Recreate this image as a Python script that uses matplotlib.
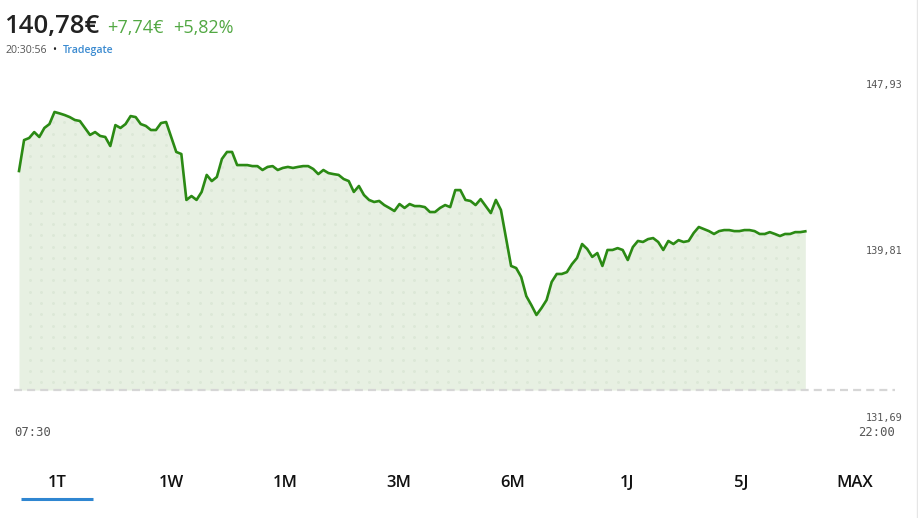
import numpy as np
import matplotlib
matplotlib.use('Agg')
import matplotlib.pyplot as plt
from matplotlib import transforms
from matplotlib.lines import Line2D

W, H = 918, 518

# intraday quotes (Tradegate), 07:30 .. 20:30:56
START_MIN = 7 * 60 + 30
LAST_MIN = 20 * 60 + 30 + 56 / 60
END_MIN = 22 * 60
PRICES = [
    143.72, 145.23, 145.33, 145.62, 145.38, 145.82, 146.01, 146.60, 146.53, 146.45,
    146.35, 146.21, 146.16, 145.82, 145.48, 145.62, 145.43, 145.38, 144.94, 145.96,
    145.82, 146.01, 146.40, 146.35, 146.01, 145.92, 145.72, 145.72, 146.06, 146.11,
    145.38, 144.65, 144.55, 142.31, 142.50, 142.31, 142.70, 143.53, 143.23, 143.43,
    144.31, 144.65, 144.65, 144.01, 144.01, 144.01, 143.96, 143.96, 143.77, 143.92,
    143.96, 143.77, 143.87, 143.92, 143.87, 143.92, 143.96, 143.96, 143.82, 143.57,
    143.77, 143.62, 143.57, 143.53, 143.33, 143.23, 142.70, 142.99, 142.55, 142.31,
    142.21, 142.26, 142.06, 141.92, 141.77, 142.11, 141.92, 142.11, 142.01, 142.01,
    141.96, 141.72, 141.72, 141.92, 142.06, 141.96, 142.79, 142.79, 142.31, 142.26,
    142.06, 142.35, 142.01, 141.67, 142.31, 141.82, 140.45, 139.09, 138.99, 138.55,
    137.62, 137.18, 136.70, 137.04, 137.43, 138.31, 138.70, 138.70, 138.79, 139.18,
    139.48, 140.16, 139.92, 139.53, 139.72, 139.09, 139.87, 139.87, 139.96, 139.87,
    139.38, 140.01, 140.31, 140.26, 140.40, 140.45, 140.26, 139.87, 140.31, 140.16,
    140.35, 140.26, 140.31, 140.70, 140.99, 140.89, 140.79, 140.65, 140.79, 140.84,
    140.84, 140.79, 140.79, 140.84, 140.84, 140.79, 140.65, 140.65, 140.74, 140.65,
    140.55, 140.65, 140.65, 140.74, 140.74, 140.78,
]
PREV_CLOSE = 133.04

Y_TICKS = [131.69, 139.81, 147.93]
Y_TICK_LABELS = ['131,69', '139,81', '147,93']
X_LABELS = ['07:30', '22:00']
TABS = ['1T', '1W', '1M', '3M', '6M', '1J', '5J', 'MAX']

LAST_PRICE = '140,78€'
CHANGE_ABS = '+7,74€'
CHANGE_PCT = '+5,82%'
TIMESTAMP = '20:30:56'
VENUE = 'Tradegate'

LINE_COLOR = '#2b8a14'
FILL_COLOR = '#e7f0e2'
DOT_COLOR = '#dce8d7'
UP_COLOR = '#52a843'
LABEL_COLOR = '#555555'
MONO = 'DejaVu Sans Mono'
SANS = ['Open Sans', 'DejaVu Sans']


def px(x, y):
    """pixel position (from top left) -> figure fraction"""
    return x / W, 1 - y / H


times = np.linspace(START_MIN, LAST_MIN, len(PRICES))

fig = plt.figure(figsize=(W / 100, H / 100), dpi=100)
fig.patch.set_facecolor('white')

# plot area: x 14..895 px, y 84.7..417.7 px
ax_left, ax_right, ax_top, ax_bottom = 14, 895, 84.7, 417.7
ax = fig.add_axes([ax_left / W, 1 - ax_bottom / H,
                   (ax_right - ax_left) / W, (ax_bottom - ax_top) / H])
ax.set_xlim(START_MIN - 5 * 870 / 876, END_MIN)
ax.set_ylim(Y_TICKS[0], Y_TICKS[-1])
ax.axis('off')

fill = ax.fill_between(times, PRICES, PREV_CLOSE, color=FILL_COLOR, lw=0, zorder=1)

# dotted texture inside the area
step_x = 11.3 / (ax_right - ax_left)
step_y = 11.3 / (ax_bottom - ax_top)
gx, gy = np.meshgrid(np.arange(16 / 881, 1, step_x), np.arange(0.005, 1, step_y))
dots = ax.scatter(gx.ravel(), gy.ravel(), s=4.5, color=DOT_COLOR, lw=0,
                  transform=ax.transAxes, zorder=2)
dots.set_clip_path(fill.get_paths()[0], ax.transData)

ax.axhline(PREV_CLOSE, color='#d6d6d6', lw=1.6, dashes=(3.6, 2.3), zorder=3)
ax.plot(times, PRICES, color=LINE_COLOR, lw=1.9, solid_joinstyle='round', zorder=4)

# y labels on the right
trans = transforms.blended_transform_factory(fig.transFigure, ax.transData)
for val, lab in zip(Y_TICKS, Y_TICK_LABELS):
    ax.text(903 / W, val, lab, transform=trans, ha='right', va='center',
            fontsize=7.4, family=MONO, color=LABEL_COLOR)

# x labels
fig.text(*px(14, 433), X_LABELS[0], ha='left', va='center', fontsize=8.8,
         family=MONO, color=LABEL_COLOR)
fig.text(*px(895, 433), X_LABELS[1], ha='right', va='center', fontsize=8.8,
         family=MONO, color=LABEL_COLOR)

# header
fig.text(*px(4, 33), LAST_PRICE, ha='left', va='baseline', fontsize=18.5,
         family=SANS, weight='semibold', color='#222222')
fig.text(*px(107, 33), CHANGE_ABS, ha='left', va='baseline', fontsize=13,
         family=SANS, color=UP_COLOR)
fig.text(*px(173, 33), CHANGE_PCT, ha='left', va='baseline', fontsize=13,
         family=SANS, color=UP_COLOR)
fig.text(*px(5, 53), TIMESTAMP, ha='left', va='baseline', fontsize=7.6,
         family=SANS, color=LABEL_COLOR)
fig.text(*px(54, 53), '•', ha='center', va='baseline', fontsize=7.6,
         family=SANS, color='#222222')
fig.text(*px(63, 53), VENUE, ha='left', va='baseline', fontsize=7.6,
         family=SANS, weight='semibold', color='#3a8ad0')

# range tabs
for i, tab in enumerate(TABS):
    fig.text(*px(57 + 114 * i, 487), tab, ha='center', va='baseline',
             fontsize=12, family=SANS, weight='semibold', color='#111111')
x0, y0 = px(21, 498.5)
x1, _ = px(93, 498.5)
fig.add_artist(Line2D([x0, x1], [y0, y0], color='#2f86d1', lw=2.2,
                      solid_capstyle='butt'))

# container border on the right
fig.add_artist(Line2D([916.5 / W, 916.5 / W], [0, 1], color='#e6e6e6', lw=1))

fig.savefig('out.png', dpi=100, facecolor='white')
